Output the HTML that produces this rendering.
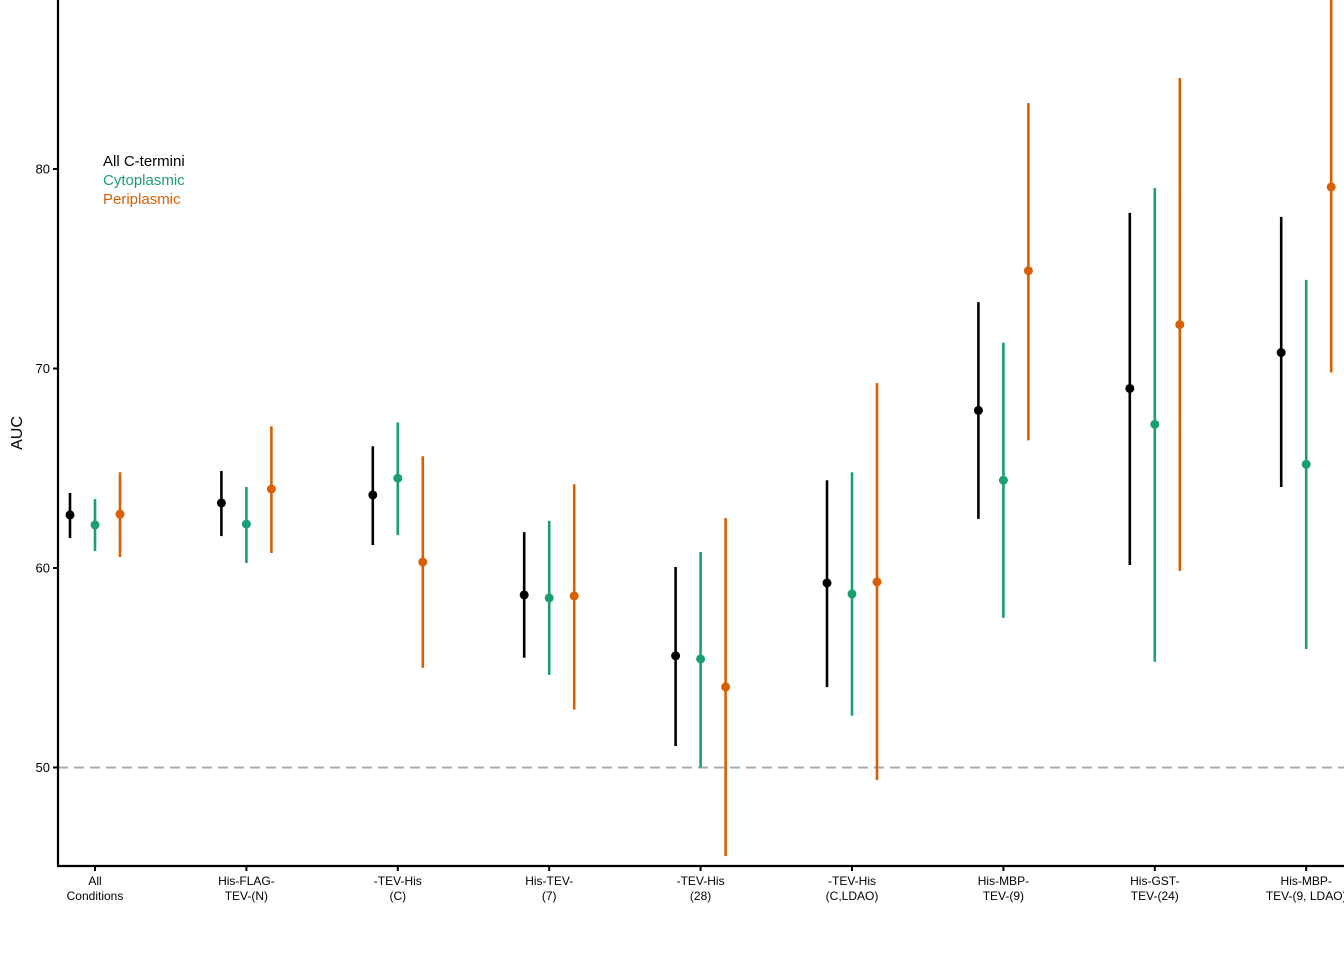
<!DOCTYPE html>
<html><head><meta charset="utf-8"><style>
body{margin:0;background:#fff}
svg{display:block;font-family:"Liberation Sans",sans-serif}
</style></head><body>
<svg id="chart" width="1344" height="960">
<defs><clipPath id="plotclip"><rect x="58" y="0" width="1286" height="866"/></clipPath></defs>
<g id="grid"></g>
<g id="marks" clip-path="url(#plotclip)"></g>
<g id="axes"></g>
</svg>
<script>
const categories=[["All","Conditions"],["His-FLAG-","TEV-(N)"],["-TEV-His","(C)"],["His-TEV-","(7)"],["-TEV-His","(28)"],["-TEV-His","(C,LDAO)"],["His-MBP-","TEV-(9)"],["His-GST-","TEV-(24)"],["His-MBP-","TEV-(9, LDAO)"]];
const allMean=[62.66,63.26,63.66,58.65,55.6,59.25,67.9,69.0,70.8];
const allLo=[61.5,61.6,61.15,55.5,51.08,54.03,62.46,60.15,64.06];
const allHi=[63.76,64.86,66.1,61.8,60.05,64.4,73.33,77.8,77.6];
const cytoMean=[62.16,62.2,64.5,58.5,55.44,58.7,64.4,67.2,65.2];
const cytoLo=[60.85,60.25,61.65,54.64,50.0,52.6,57.5,55.3,55.94];
const cytoHi=[63.46,64.06,67.3,62.36,60.8,64.8,71.3,79.05,74.44];
const periMean=[62.7,63.96,60.3,58.6,54.04,59.3,74.9,72.2,79.1];
const periLo=[60.55,60.75,55.0,52.9,45.56,49.37,66.4,59.85,69.8];
const periHi=[64.8,67.1,65.6,64.2,62.5,69.27,83.3,84.56,89.0];
const yTicks=[50,60,70,80];
const refLine=50;

const NS="http://www.w3.org/2000/svg";
const y=v=>169+(80-v)*19.95;
const x=i=>95+i*151.4;
function mk(tag,attrs,parent,text){const e=document.createElementNS(NS,tag);for(const k in attrs)e.setAttribute(k,attrs[k]);if(text!=null)e.textContent=text;parent.appendChild(e);return e;}
const grid=document.getElementById('grid'),marks=document.getElementById('marks'),axes=document.getElementById('axes');
const ref=mk('line',{x1:58,x2:1344,y1:y(refLine),y2:y(refLine),stroke:'#aaaaaa','stroke-width':2,'stroke-dasharray':'10,6'},grid);


const series=[{m:allMean,lo:allLo,hi:allHi,c:'#000000',o:-25,n:'all'},{m:cytoMean,lo:cytoLo,hi:cytoHi,c:'#1b9e77',o:0,n:'cytoplasmic'},{m:periMean,lo:periLo,hi:periHi,c:'#d95f02',o:25,n:'periplasmic'}];
series.forEach(s=>{s.m.forEach((v,i)=>{const cx=x(i)+s.o;
const l=mk('line',{x1:cx,x2:cx,y1:y(s.lo[i]),y2:y(s.hi[i]),stroke:s.c,'stroke-width':2.6},marks);


const p=mk('circle',{cx:cx,cy:y(v),r:4.5,fill:s.c},marks);

});});
const ya=mk('line',{x1:58,x2:58,y1:0,y2:866,stroke:'#000','stroke-width':2.2},axes);


const xa=mk('line',{x1:57,x2:1344,y1:866,y2:866,stroke:'#000','stroke-width':2.2},axes);


yTicks.forEach(t=>{mk('line',{x1:53,x2:58,y1:y(t),y2:y(t),stroke:'#000','stroke-width':2},axes);
const tl=mk('text',{x:50,y:y(t)+4.5,'text-anchor':'end','font-size':13},axes,String(t));

});
categories.forEach((c,i)=>{mk('line',{x1:x(i),x2:x(i),y1:866,y2:871,stroke:'#000','stroke-width':2},axes);
c.forEach((ln,j)=>{const tl=mk('text',{x:x(i),y:885+j*15,'text-anchor':'middle','font-size':12},axes,ln);

});});
const yt=mk('text',{x:0,y:0,transform:'translate(22,433) rotate(-90)','text-anchor':'middle','font-size':16},axes,'AUC');


[['All C-termini','#000'],['Cytoplasmic','#1b9e77'],['Periplasmic','#d95f02']].forEach((e,k)=>{
const t=mk('text',{x:103,y:166+k*19,'font-size':15,fill:e[1]},axes,e[0]);

});
</script>
</body></html>
